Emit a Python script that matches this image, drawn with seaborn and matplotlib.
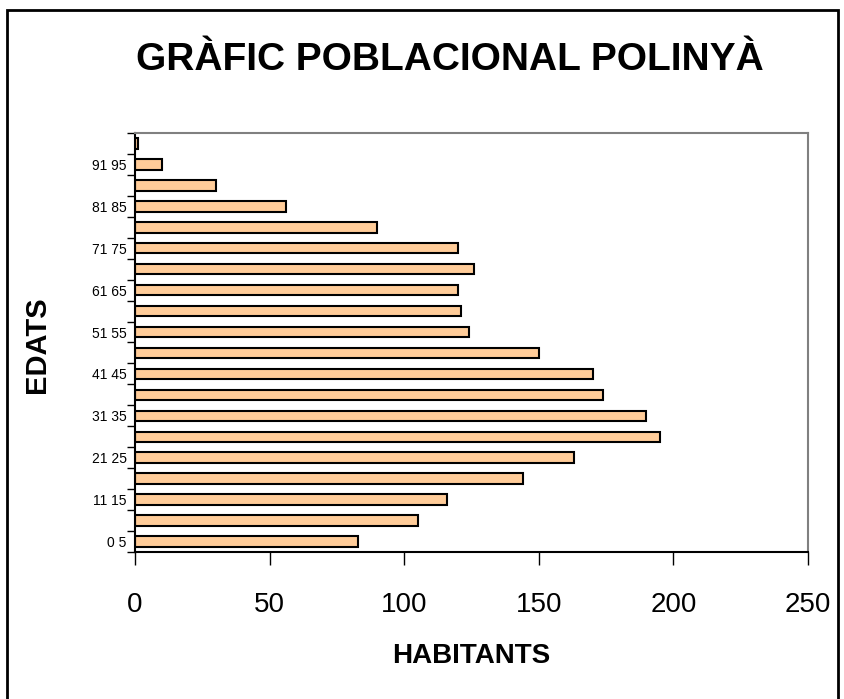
import matplotlib
matplotlib.use("Agg")
import matplotlib.pyplot as plt
import seaborn as sns
import pandas as pd
from matplotlib.patches import Rectangle

# age groups (bottom to top) and population counts
edats = ["0 5", "6 10", "11 15", "16 20", "21 25", "26 30", "31 35", "36 40",
         "41 45", "46 50", "51 55", "56 60", "61 65", "66 70", "71 75", "76 80",
         "81 85", "86 90", "91 95", "96 100"]
habitants = [83, 105, 116, 144, 163, 195, 190, 174, 170, 150,
             124, 121, 120, 126, 120, 90, 56, 30, 10, 1]
x_ticks = [0, 50, 100, 150, 200, 250]

df = pd.DataFrame({"Edats": edats, "Habitants": habitants})

sns.set_theme(style="white")
plt.rcParams["font.family"] = ["Liberation Sans", "DejaVu Sans"]
plt.rcParams["text.color"] = "black"
plt.rcParams["xtick.color"] = "black"
plt.rcParams["ytick.color"] = "black"
plt.rcParams["axes.labelcolor"] = "black"

fig = plt.figure(figsize=(8.44, 6.99), dpi=100)
ax = fig.add_axes([135 / 844, 1 - 552 / 699, 673 / 844, 419 / 699])

sns.barplot(data=df, x="Habitants", y="Edats", orient="h", order=edats,
            color="#FFCC99", saturation=1, width=0.5,
            edgecolor="black", linewidth=1.5, ax=ax)

n = len(edats)
ax.set_ylim(-0.5, n - 0.5)
ax.set_xlim(0, 250)

# only every other age label is shown
ax.set_yticks(range(n))
ax.set_yticklabels([lab if i % 2 == 0 else "" for i, lab in enumerate(edats)], fontsize=10)
ax.set_yticks([i - 0.5 for i in range(n + 1)], minor=True)
ax.tick_params(axis="y", which="major", length=0, pad=6)
ax.tick_params(axis="y", which="minor", left=True, length=6, width=1, color="black")

ax.set_xticks(x_ticks)
ax.tick_params(axis="x", bottom=True, length=9, width=1, color="black",
               labelsize=20, pad=20)

for side in ["left", "bottom"]:
    ax.spines[side].set_color("black")
    ax.spines[side].set_linewidth(1.5)
for side in ["top", "right"]:
    ax.spines[side].set_color("#808080")
    ax.spines[side].set_linewidth(1.5)

ax.set_xlabel("HABITANTS", fontsize=20, fontweight="bold", labelpad=18)
ax.set_ylabel("")
fig.text(37 / 844, 1 - 345 / 699, "EDATS", fontsize=21, fontweight="bold",
         rotation=90, ha="center", va="center")

fig.text(450 / 844, 1 - 60 / 699, "GRÀFIC POBLACIONAL POLINYÀ",
         fontsize=28, fontweight="bold", ha="center", va="center")

# outer chart frame
fig.patches.append(Rectangle((7 / 844, -0.05), 831 / 844, 1.05 - 10 / 699,
                             transform=fig.transFigure, fill=False,
                             edgecolor="black", linewidth=2))

fig.savefig("out.png", dpi=100)
